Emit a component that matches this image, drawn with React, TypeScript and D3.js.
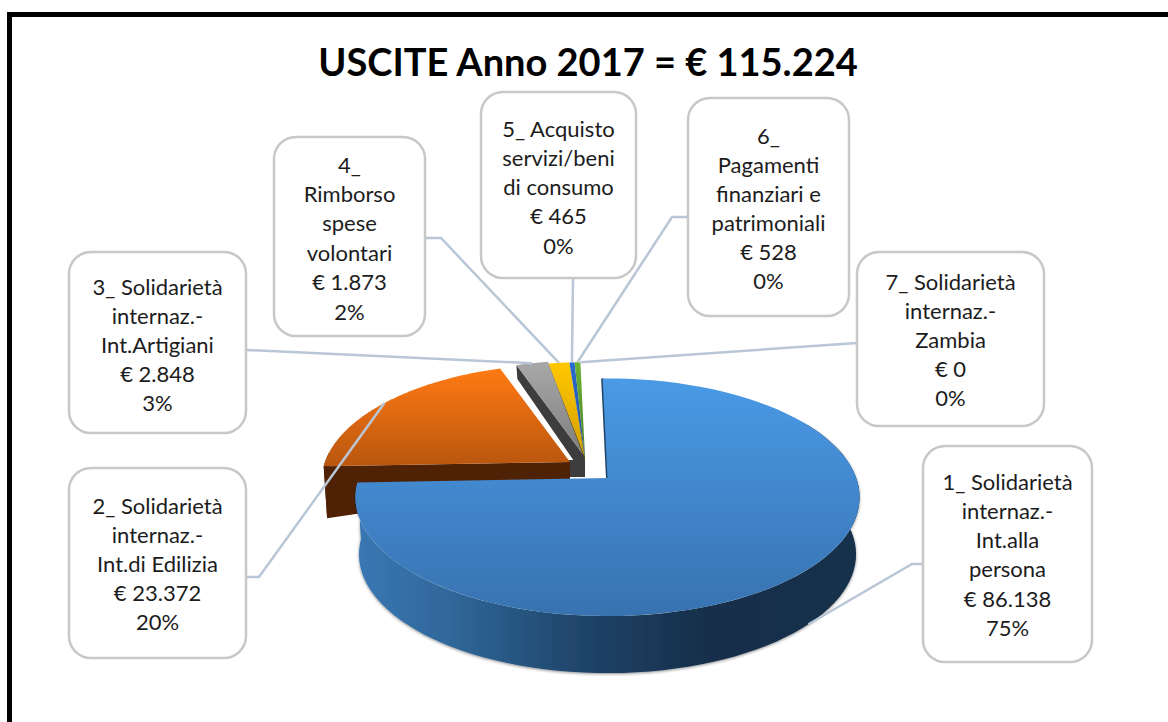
import React from 'react';
import * as d3 from 'd3';

const title = 'USCITE Anno 2017 = € 115.224';
const amounts = [86138, 23372, 2848, 1873, 465, 528, 0];
const amountLabels = ['€ 86.138', '€ 23.372', '€ 2.848', '€ 1.873', '€ 465', '€ 528', '€ 0'];
const percentLabels = ['75%', '20%', '3%', '2%', '0%', '0%', '0%'];
const categoryLines = [
  ['1_ Solidarietà', 'internaz.-', 'Int.alla', 'persona'],
  ['2_ Solidarietà', 'internaz.-', 'Int.di Edilizia'],
  ['3_ Solidarietà', 'internaz.-', 'Int.Artigiani'],
  ['4_', 'Rimborso', 'spese', 'volontari'],
  ['5_ Acquisto', 'servizi/beni', 'di consumo'],
  ['6_', 'Pagamenti', 'finanziari e', 'patrimoniali'],
  ['7_ Solidarietà', 'internaz.-', 'Zambia'],
];

const width = 1168;
const height = 722;
const font = 'Lato, "Open Sans", sans-serif';

// pie projection: flat disc seen in perspective
const radius = 250;
const radiusY = 116.3;
const persp = 0.163;
const startDeg = -1.3;

// one entry per slice: apex on screen, scale, depth at apex and at rim
const wedges = [
  { ax: 607.5, ay: 478, s: 0.995, depth: 60, rim: 57, top: ['#4a9ae6', '#3872b0'], wall: '#2c5c8d' },
  { ax: 570, ay: 462, s: 0.98, depth: 20, rim: 52, top: ['#ff7a14', '#b9560f'], wall: '#4f2205' },
  { ax: 585, ay: 457, s: 0.96, depth: 20, rim: 14, top: ['#a8a8a8', '#7d7d7d'], wall: '#3d3d3d' },
  { ax: 585, ay: 457, s: 0.94, depth: 3, rim: 2, top: ['#ffc800', '#d29e00'], wall: '#6b5400' },
  { ax: 585, ay: 457, s: 0.94, depth: 2, rim: 1, top: ['#2a6bd0', '#1f4f9c'], wall: '#173a70' },
  { ax: 585, ay: 457, s: 0.94, depth: 2, rim: 1, top: ['#6cb033', '#4f8425'], wall: '#2e4d16' },
];

// callout boxes and where their text and leader elbow sit
const boxes = [
  { x: 923, y: 446, w: 169, h: 216, first: 481, step: 29.3, elbow: [[923, 564], [912, 564]] },
  { x: 69, y: 468, w: 177, h: 190, first: 505, step: 29, elbow: [[246, 577], [259, 577]] },
  { x: 69, y: 252, w: 177, h: 181, first: 286, step: 29, elbow: [[246, 350]] },
  { x: 274, y: 137, w: 151, h: 199, first: 164, step: 29.4, elbow: [[425, 238], [441, 238]] },
  { x: 481, y: 92, w: 155, h: 186, first: 128, step: 29.3, elbow: [[573, 278]] },
  { x: 688, y: 98, w: 161, h: 218, first: 135, step: 29, elbow: [[688, 217], [672, 217]] },
  { x: 857, y: 252, w: 187, h: 174, first: 281, step: 29, elbow: [[857, 343]] },
];

const pie = d3
  .pie<number>()
  .sort(null)
  .startAngle((startDeg * Math.PI) / 180)
  .endAngle(((startDeg + 360) * Math.PI) / 180);
const slices = pie(amounts);

type Wedge = (typeof wedges)[number];

const project = (w: Wedge, r: number, a: number): [number, number] => {
  const u = r * w.s * Math.sin(a);
  const v = -r * w.s * Math.cos(a);
  const k = 1 / (1 - persp * v);
  return [w.ax + radius * u * k, w.ay + radiusY * v * k];
};

// same point on the lower face of the slice
const projectLow = (w: Wedge, r: number, a: number): [number, number] => {
  const [x, y] = project(w, r, a);
  return [x + (w.ax - x) * 0.014, y + w.depth + (w.rim - w.depth) * r];
};

const line = d3.line();
const sample = (a0: number, a1: number) => d3.range(0, 1.0001, 1 / 80).map(t => a0 + (a1 - a0) * t);

const topPath = (w: Wedge, a0: number, a1: number) =>
  line([[w.ax, w.ay], ...sample(a0, a1).map(a => project(w, 1, a))]) + 'Z';

const rimWall = (w: Wedge, a0: number, a1: number) => {
  const angles = sample(a0, a1);
  return (
    line([...angles.map(a => project(w, 1, a)), ...angles.reverse().map(a => projectLow(w, 1, a))]) + 'Z'
  );
};

const sideWall = (w: Wedge, a: number) =>
  line([project(w, 0, a), project(w, 1, a), projectLow(w, 1, a), projectLow(w, 0, a)]) + 'Z';

const midAngle = (i: number) => (slices[i].startAngle + slices[i].endAngle) / 2;

// leader ends on the rim of the slice, blue one on its outer wall
const anchor = (i: number): [number, number] => {
  if (i < wedges.length) {
    return i === 0 ? projectLow(wedges[0], 1, midAngle(0)) : project(wedges[i], 1, midAngle(i));
  }
  return project(wedges[wedges.length - 1], 1, slices[i].startAngle);
};

const Callout = ({ i }: { i: number }) => {
  const b = boxes[i];
  const lines = [...categoryLines[i], amountLabels[i], percentLabels[i]];
  return (
    <g>
      <rect x={b.x} y={b.y} width={b.w} height={b.h} rx={22} fill="#fff" stroke="#c8c8c8" strokeWidth={2.5} />
      {lines.map((t, n) => (
        <text
          key={n}
          x={b.x + b.w / 2}
          y={b.first + n * b.step}
          textAnchor="middle"
          dominantBaseline="central"
          fontFamily={font}
          fontSize={22}
          fill="#1c1c1c"
        >
          {t}
        </text>
      ))}
    </g>
  );
};

export default function App() {
  const main = wedges[0];
  const orange = wedges[1];
  const grey = wedges[2];
  return (
    <svg width={width} height={height} style={{ position: 'absolute', left: 0, top: 0, background: '#fff' }}>
      <defs>
        {wedges.map((w, i) => (
          <linearGradient key={i} id={`top${i}`} x1="0" y1="0" x2="0" y2="1">
            <stop offset="0" stopColor={w.top[0]} />
            <stop offset="1" stopColor={w.top[1]} />
          </linearGradient>
        ))}
        <linearGradient id="wallMain" x1="0" y1="0" x2="1" y2="0">
          <stop offset="0" stopColor="#3a78b4" />
          <stop offset="0.2" stopColor="#2f6698" />
          <stop offset="0.45" stopColor="#1f4468" />
          <stop offset="0.7" stopColor="#162f4a" />
          <stop offset="1" stopColor="#16304c" />
        </linearGradient>
        <filter id="soft" x="-5%" y="-5%" width="110%" height="115%">
          <feDropShadow dx="0" dy="1" stdDeviation="1.5" floodColor="#000" floodOpacity="0.45" />
        </filter>
      </defs>

      <rect x={9.5} y={14.5} width={1300} height={900} fill="#fff" stroke="#000" strokeWidth={5} />
      <text
        x={588}
        y={61}
        textAnchor="middle"
        dominantBaseline="central"
        fontFamily={font}
        fontWeight={700}
        fontSize={38}
        fill="#000"
      >
        {title}
      </text>

      {/* dark block under the small slices */}
      <rect x={grey.ax - 17} y={grey.ay + 3} width={17} height={17} fill={grey.wall} />

      {/* small slices, left to right so each wall lands on its neighbour */}
      {[2, 3, 4, 5].map(i => (
        <g key={i}>
          <path d={sideWall(wedges[i], slices[i].startAngle)} fill={wedges[i].wall} />
          <path d={topPath(wedges[i], slices[i].startAngle, slices[i].endAngle)} fill={`url(#top${i})`} />
        </g>
      ))}

      <path d={rimWall(orange, slices[1].startAngle, slices[1].startAngle + 0.12)} fill={orange.wall} />
      <path d={sideWall(orange, slices[1].startAngle)} fill={orange.wall} />
      <path d={topPath(orange, slices[1].startAngle, slices[1].endAngle)} fill="url(#top1)" />

      <path d={rimWall(main, (60 * Math.PI) / 180, slices[0].endAngle)} fill="url(#wallMain)" filter="url(#soft)" />
      {/* thin dark edge on the cut side of the blue slice */}
      <path
        d={line([project(main, 1, slices[0].startAngle), project(main, 0, slices[0].startAngle)]) ?? ''}
        stroke="#1f4468"
        strokeWidth={3}
        fill="none"
      />
      <path d={topPath(main, slices[0].startAngle, slices[0].endAngle)} fill="url(#top0)" />

      {boxes.map((b, i) => (
        <path
          key={i}
          d={line([...(b.elbow as [number, number][]), anchor(i)]) ?? ''}
          fill="none"
          stroke="#b9c6d6"
          strokeWidth={2.5}
        />
      ))}
      {boxes.map((_, i) => (
        <Callout key={i} i={i} />
      ))}
    </svg>
  );
}
